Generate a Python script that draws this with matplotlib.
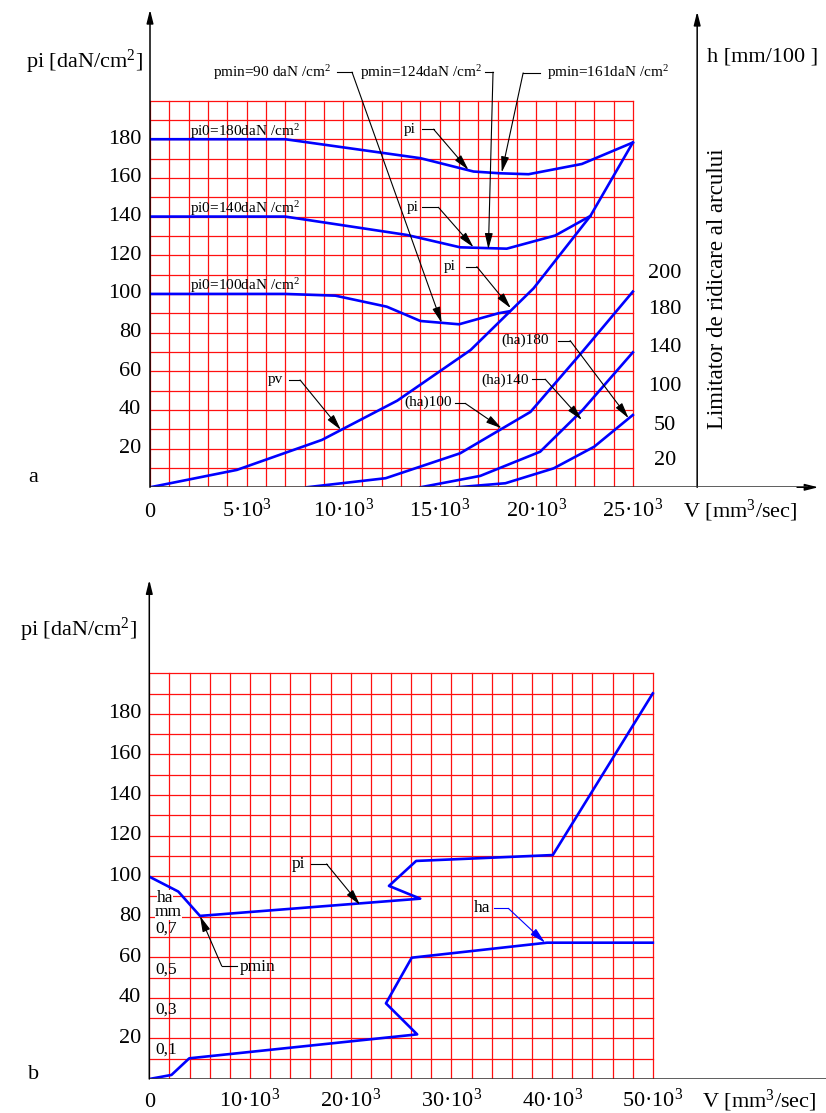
import numpy as np
import matplotlib
matplotlib.use("Agg")
from matplotlib import pyplot as plt

plt.rcParams['font.family'] = ['Liberation Serif', 'DejaVu Serif']
plt.rcParams['mathtext.default'] = 'regular'

# --- chart a (x in 10^3 mm3/sec) ---
pv_x = [0, 4.5, 8.9, 12.8, 16.6, 19.86, 22.8, 25]
pv_y = [0, 9, 24.5, 44.8, 71, 102.9, 140.3, 178.3]
pi180_x = [0, 7, 14, 16.75, 18.1, 19.6, 22.36, 25]
pi180_y = [180, 180, 170.2, 163.3, 162.4, 161.9, 167.2, 178.3]
pi140_x = [0, 7, 13.3, 16.06, 18.47, 20.98, 22.8]
pi140_y = [140, 140, 130.5, 124.1, 123.4, 130.2, 140.3]
pi100_x = [0, 7, 9.6, 12.26, 14, 16, 18.04, 18.6]
pi100_y = [100, 100, 99.1, 93.4, 86, 84.3, 90, 91]
ha100_x = [8.1, 12.2, 16.06, 19.7, 22.36, 25]
ha100_y = [0, 4.7, 17.6, 39, 69.8, 101.2]
ha140_x = [14, 17.1, 20.2, 22.4, 25]
ha140_y = [0, 5.9, 18.4, 40, 69.8]
ha180_x = [15.9, 18.4, 20.9, 23, 25]
ha180_y = [0, 2.1, 9.8, 21, 37.4]

a_yticks = [20, 40, 60, 80, 100, 120, 140, 160, 180]
a_xticks = [0, 5, 10, 15, 20, 25]
a_xlabels = ['0', '5·10$^3$', '10·10$^3$', '15·10$^3$', '20·10$^3$', '25·10$^3$']
h_labels = ['200', '180', '140', '100', '50', '20']
h_pos = [110.8, 91.7, 72.1, 51.9, 32.2, 14.1]

# --- chart b ---
pib_x = [0, 2.88, 5.03, 26.9, 23.8, 26.5, 40.07, 50]
pib_y = [99.75, 92.4, 80.4, 88.9, 95.2, 107.5, 110.4, 190.1]
hab_x = [0, 2.2, 3.97, 26.6, 23.5, 26.06, 39.5, 50]
hab_y = [0, 2, 10.2, 22, 37.3, 59.8, 67.2, 67.2]
b_yticks = [20, 40, 60, 80, 100, 120, 140, 160, 180]
b_xticks = [0, 10, 20, 30, 40, 50]
b_xlabels = ['0', '10·10$^3$', '20·10$^3$', '30·10$^3$', '40·10$^3$', '50·10$^3$']
ha_mm = ['0,7', '0,5', '0,3', '0,1']
ha_mm_pos = [74.3, 54.1, 34.3, 14.3]

BLUE = '#0000ff'
RED = '#ff1010'
AX = '#333333'
ARROW = '-|>,head_length=0.8,head_width=0.2'


def callout(ax, label, txy, k0, k1, tip, fs=11, color='black', ha='center'):
    ax.text(txy[0], txy[1], label, fontsize=fs, ha=ha, va='center')
    ax.plot([k0[0], k1[0]], [k0[1], k1[1]], color=color, lw=0.8)
    ax.annotate('', xy=tip, xytext=k1,
                arrowprops=dict(arrowstyle=ARROW, color=color, lw=0.8,
                                shrinkA=0, shrinkB=0, mutation_scale=12))


def grid(ax, xmax, xstep, ymax=200, ystep=10):
    for x in np.arange(0, xmax + 0.01, xstep):
        ax.plot([x, x], [0, ymax], color=RED, lw=0.9, zorder=1)
    for y in np.arange(0, ymax + 0.01, ystep):
        ax.plot([0, xmax], [y, y], color=RED, lw=0.9, zorder=1)


fig = plt.figure(figsize=(8.26, 11.13), dpi=100)
W, H = 826.0, 1113.0

# ================= chart a =================
ax = fig.add_axes([150 / W, (H - 487.3) / H, 676 / W, 487.3 / H])
ax.set_xlim(0, 35)
ax.set_ylim(0, 252)
ax.set_axis_off()
grid(ax, 25, 1)

for xs, ys in [(pv_x, pv_y), (pi180_x, pi180_y), (pi140_x, pi140_y),
               (pi100_x, pi100_y), (ha100_x, ha100_y), (ha140_x, ha140_y),
               (ha180_x, ha180_y)]:
    ax.plot(xs, ys, color=BLUE, lw=1.9, zorder=3)

# axes
ax.plot([0, 34], [0, 0], color=AX, lw=1.1, zorder=4)
ax.annotate('', xy=(34.6, 0), xytext=(33.5, 0),
            arrowprops=dict(arrowstyle=ARROW, color='black', lw=1, mutation_scale=10,
                            shrinkA=0, shrinkB=0))
ax.annotate('', xy=(0, 247), xytext=(0, 0),
            arrowprops=dict(arrowstyle=ARROW, color='black', lw=1.1, mutation_scale=10,
                            shrinkA=0, shrinkB=0), zorder=4)
ax.annotate('', xy=(28.33, 246), xytext=(28.33, 0),
            arrowprops=dict(arrowstyle=ARROW, color='black', lw=1.1, mutation_scale=10,
                            shrinkA=0, shrinkB=0))

for v in a_yticks:
    ax.text(-0.45, v, str(v), fontsize=16, ha='right', va='center')
for v, s in zip(a_xticks, a_xlabels):
    ax.text(v, -15.3, s, fontsize=16, ha='center', va='baseline')
ax.text(27.6, -15.3, 'V [mm$^3$/sec]', fontsize=16, ha='left', va='baseline')
ax.text(-0.36, 220, 'pi [daN/cm$^2$]', fontsize=16, ha='right', va='center')
ax.text(28.85, 222.5, 'h [mm/100 ]', fontsize=16, ha='left', va='center')
ax.text(29.4, 102.8, 'Limitator de ridicare al arcului', fontsize=16.5,
        rotation=90, ha='center', va='center')
for s, y in zip(h_labels, h_pos):
    ax.text(26.67, y, s, fontsize=16, ha='center', va='center')
ax.text(-6.06, 5.3, 'a', fontsize=16, ha='center', va='center')

for p in [180, 140, 100]:
    ax.text(2.07, p + 1.8, 'pi0=%ddaN /cm$^2$' % p, fontsize=11,
            ha='left', va='baseline', zorder=5)

callout(ax, 'pi', (13.47, 185.2), (14.07, 185.2), (14.68, 185.2), (16.49, 164.1))
callout(ax, 'pi', (13.6, 144.8), (14.07, 144.8), (14.93, 144.8), (16.75, 124.1))
callout(ax, 'pi', (15.54, 114.1), (16.37, 114.1), (16.92, 114.1), (18.68, 92.6))
callout(ax, 'pv', (6.47, 55.5), (7.22, 55.5), (7.77, 55.5), (9.88, 29.7))
callout(ax, '(ha)100', (14.42, 43.8), (15.8, 43.4), (16.32, 43.4), (18.21, 30.5))
callout(ax, '(ha)140', (18.39, 55.5), (19.77, 55.9), (20.46, 55.9), (22.36, 34.8))
callout(ax, '(ha)180', (19.42, 75.9), (21.15, 75.9), (21.75, 75.9), (24.78, 35.7))

callout(ax, 'pmin=90 daN /cm$^2$', (3.26, 214.3), (9.68, 214.7), (10.46, 214.7),
        (15.1, 85), fs=11, ha='left')
callout(ax, 'pmin=124daN /cm$^2$', (10.87, 214.3), (17.35, 214.7), (17.76, 214.7),
        (17.52, 123.1), fs=11, ha='left')
callout(ax, 'pmin=161daN /cm$^2$', (20.56, 214.3), (20.2, 214.3), (19.32, 214.3),
        (18.21, 162.8), fs=11, ha='left')

# ================= chart b =================
bx = fig.add_axes([149.3 / W, (H - 1079) / H, (W - 149.3) / W, 519 / H])
bx.set_xlim(0, (W - 149.3) / 10.07)
bx.set_ylim(0, 519 / 2.0285)
bx.set_axis_off()
grid(bx, 50, 2)

bx.plot(pib_x, pib_y, color=BLUE, lw=1.9, zorder=3)
bx.plot(hab_x, hab_y, color=BLUE, lw=1.9, zorder=3)

bx.plot([0, 70], [0, 0], color=AX, lw=1.1, zorder=4)
bx.annotate('', xy=(0, 246), xytext=(0, 0),
            arrowprops=dict(arrowstyle=ARROW, color='black', lw=1.1, mutation_scale=10,
                            shrinkA=0, shrinkB=0), zorder=4)

for v in b_yticks:
    bx.text(-0.8, v, str(v), fontsize=16, ha='right', va='center')
for v, s in zip(b_xticks, b_xlabels):
    bx.text(v, -13.8, s, fontsize=16, ha='center', va='baseline')
bx.text(54.9, -13.8, 'V [mm$^3$/sec]', fontsize=16, ha='left', va='baseline')
bx.text(-1.22, 221.3, 'pi [daN/cm$^2$]', fontsize=16, ha='right', va='center')
bx.text(-11.5, 2, 'b', fontsize=16, ha='center', va='center')

bx.text(1.56, 87.2, 'ha', fontsize=12.5, ha='center', va='baseline', zorder=5,
        bbox=dict(fc='white', ec='none', pad=0))
bx.text(1.89, 80.3, 'mm', fontsize=12.5, ha='center', va='baseline', zorder=5,
        bbox=dict(fc='white', ec='none', pad=0))
for s, y in zip(ha_mm, ha_mm_pos):
    bx.text(1.72, y, s, fontsize=12.5, ha='center', va='center', zorder=5)

callout(bx, 'pi', (14.8, 106), (16.03, 106), (17.6, 106), (20.93, 85.8), fs=12.5)
callout(bx, 'pmin', (8.94, 55.4), (8.68, 55.7), (7.19, 55.7), (5.03, 80.4),
        fs=12.5, ha='left')
callout(bx, 'ha', (33.0, 84.1), (34.24, 84.1), (35.66, 84.1), (39.3, 67.2),
        fs=12.5, color=BLUE)

fig.savefig('out.png', dpi=100)
